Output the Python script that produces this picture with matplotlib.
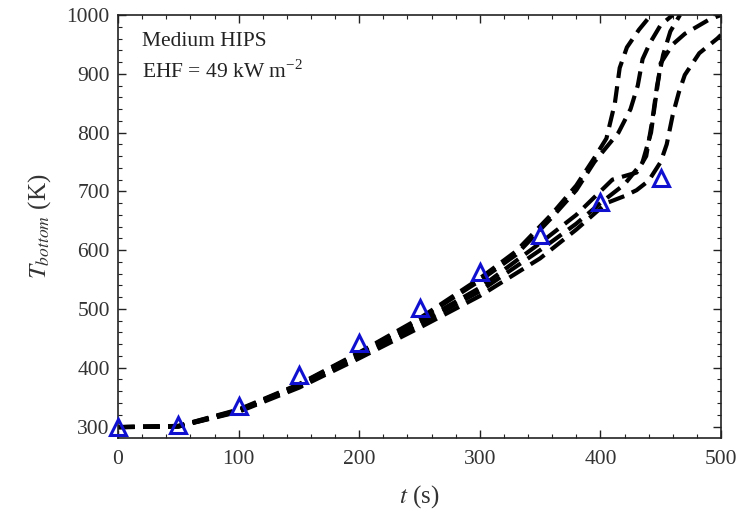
import matplotlib
matplotlib.use("Agg")
import matplotlib.pyplot as plt
from matplotlib.ticker import MultipleLocator

plt.rcParams['font.family'] = ['Liberation Serif', 'DejaVu Serif']
plt.rcParams['mathtext.fontset'] = 'stix'

# measured points (triangles)
t_exp = [0, 50, 100, 150, 200, 250, 300, 350, 400, 450]
T_exp = [300, 303, 335, 388, 442, 502, 563, 626, 682, 723]

# simulated curves (dashed)
t_c1 = [0, 50, 100, 150, 200, 250, 300, 330, 360, 380, 395, 405, 412, 416, 422, 432, 442]
T_c1 = [299, 301, 329, 372, 426, 484, 552, 598, 662, 710, 757, 790, 850, 910, 945, 975, 1000]

t_c2 = [0, 50, 100, 150, 200, 250, 300, 330, 360, 380, 395, 405, 415, 425, 431, 435, 441, 450, 460]
T_c2 = [299, 301, 328, 371, 425, 482, 548, 592, 656, 702, 750, 775, 800, 840, 880, 925, 952, 983, 1000]

t_c3 = [0, 50, 100, 150, 200, 250, 300, 350, 380, 400, 410, 420, 430, 438, 443, 447, 452, 458, 466]
T_c3 = [299, 300, 327, 369, 421, 477, 536, 612, 660, 700, 720, 726, 732, 760, 820, 880, 932, 972, 1000]

t_c4 = [0, 50, 100, 150, 200, 250, 300, 350, 380, 400, 420, 435, 442, 446, 450, 460, 470, 480, 490, 500]
T_c4 = [299, 300, 326, 368, 419, 474, 530, 600, 645, 680, 712, 750, 800, 860, 918, 950, 968, 980, 992, 1000]

t_c5 = [0, 50, 100, 150, 200, 250, 300, 350, 380, 405, 420, 430, 440, 450, 455, 460, 465, 470, 482, 497, 500]
T_c5 = [299, 300, 325, 366, 416, 468, 522, 586, 635, 680, 692, 702, 718, 750, 780, 830, 868, 898, 935, 960, 966]

curves = [(t_c1, T_c1), (t_c2, T_c2), (t_c3, T_c3), (t_c4, T_c4), (t_c5, T_c5)]

fig = plt.figure(figsize=(7.4, 5.24), dpi=100)
ax = fig.add_axes([0.1595, 0.1647, 0.8148, 0.8067])

for t, T in curves:
    ax.plot(t, T, color='black', linestyle=(0, (4, 2)), linewidth=3, clip_on=True)

ax.plot(t_exp, T_exp, linestyle='none', marker='^', markersize=11,
        markerfacecolor='none', markeredgecolor='#1010d0', markeredgewidth=2.2,
        clip_on=False, zorder=5)

ax.set_xlim(0, 500)
ax.set_ylim(281, 1000)
ax.xaxis.set_major_locator(MultipleLocator(100))
ax.xaxis.set_minor_locator(MultipleLocator(20))
ax.yaxis.set_major_locator(MultipleLocator(100))
ax.yaxis.set_minor_locator(MultipleLocator(20))
ax.tick_params(which='both', direction='in', top=True, right=True, colors='#222222',
               labelcolor='#333333', labelsize=15.5)
ax.tick_params(which='major', length=6, width=1)
ax.tick_params(which='minor', length=3, width=0.8)
ax.tick_params(axis='x', pad=9)
ax.tick_params(axis='y', pad=6)
for s in ax.spines.values():
    s.set_linewidth(1.2)
    s.set_color('#222222')

ax.set_xlabel(r'$t$ (s)', fontsize=18, color='#333333', labelpad=10)
ax.set_ylabel(r'$T_{bottom}$ (K)', fontsize=18, color='#333333', labelpad=10)

ax.text(0.04, 0.96, 'Medium HIPS', transform=ax.transAxes, fontsize=15.5,
        va='top', ha='left', color='#222222')
ax.text(0.04, 0.893, r'EHF = 49 kW m$^{\mathregular{-2}}$', transform=ax.transAxes,
        fontsize=15.5, va='top', ha='left', color='#222222')

fig.savefig('out.png', dpi=100)
